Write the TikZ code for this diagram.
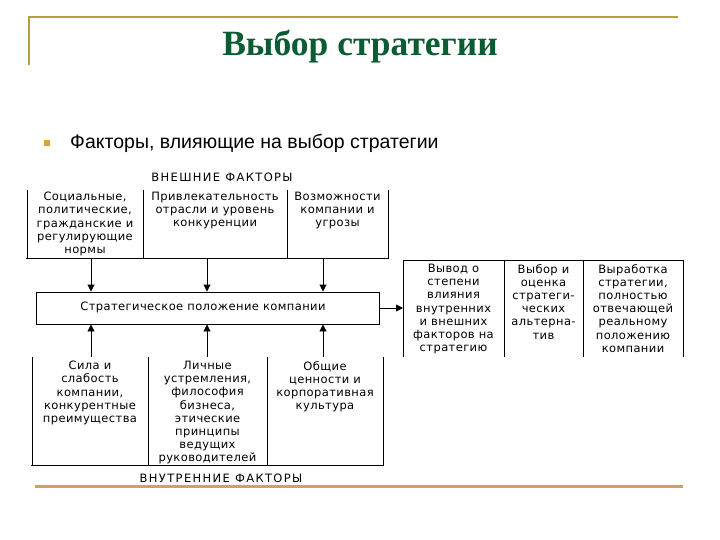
\documentclass[tikz,border=0pt]{standalone}
\usepackage{fontspec}
\setmainfont{Liberation Serif}
\newfontfamily\subfont{Liberation Sans}
\newfontfamily\tabfont[LetterSpace=3.5]{DejaVu Sans}
\newfontfamily\hdrfont[LetterSpace=12]{DejaVu Sans}
\usetikzlibrary{arrows.meta}
\definecolor{decoolive}{HTML}{B5A03A}
\definecolor{decotan}{HTML}{C8A65E}
\definecolor{titlegreen}{HTML}{0A5C32}
\definecolor{bulletc}{HTML}{D9A530}
\begin{document}
\begin{tikzpicture}[x=1pt,y=-1pt,
  cell/.style={font=\tabfont\fontsize{11.5}{13.2}\selectfont, align=center, anchor=north, inner sep=0pt},
  hdr/.style={font=\hdrfont\fontsize{11.5}{13.2}\selectfont, inner sep=0pt},
  tline/.style={line width=0.9pt},
  arr/.style={line width=0.9pt,-{Triangle[width=7pt,length=7pt]}}]
\useasboundingbox[fill=white] (0,0) rectangle (720,540);
% slide decoration
\draw[decoolive,line width=2pt] (29,65) -- (29,17) -- (678,17);
\draw[decotan,line width=3pt] (35,486) -- (683,486);
\node[text=titlegreen,font=\fontsize{35.5}{40}\selectfont\bfseries] (title) at (360,47) {Выбор стратегии};
\node[fill=bulletc,minimum size=6.5pt,inner sep=0pt] (bul) at (47,143) {};
\node[anchor=west,font=\subfont\fontsize{19.5}{22}\selectfont,inner sep=0pt] (sub) at (70,143) {Факторы, влияющие на выбор стратегии};
% external factors
\node[hdr] (ext) at (222,177) {ВНЕШНИЕ ФАКТОРЫ};
\draw[tline] (27,190) -- (27,258) (143,190) -- (143,258) (287,190) -- (287,258) (388,190) -- (388,258) (26,258) -- (389,258);
\node[cell] (e1) at (85,192) {Социальные,\\политические,\\гражданские и\\регулирующие\\нормы};
\node[cell] (e2) at (215,192) {Привлекательность\\отрасли и уровень\\конкуренции};
\node[cell] (e3) at (337.5,192) {Возможности\\компании и\\угрозы};
% strategic position
\node[draw,line width=0.9pt,minimum width=343pt,minimum height=32pt,inner sep=0pt] (strat) at (207.5,308) {};
\node[font=\tabfont\fontsize{11.5}{13.2}\selectfont,inner sep=0pt] (stext) at (203,307) {Стратегическое положение компании};
\coordinate (a1) at (91,258);
\coordinate (a2) at (207,258);
\coordinate (a3) at (323,258);
\draw[arr] (a1) -- (a1 |- strat.north);
\draw[arr] (a2) -- (a2 |- strat.north);
\draw[arr] (a3) -- (a3 |- strat.north);
% internal factors
\draw[tline] (32,357) -- (32,465) (148,357) -- (148,465) (267,357) -- (267,465) (383,357) -- (383,465) (31,465) -- (384,465);
\coordinate (b1) at (91,357);
\coordinate (b2) at (207,357);
\coordinate (b3) at (323,357);
\draw[arr] (b1) -- (b1 |- strat.south);
\draw[arr] (b2) -- (b2 |- strat.south);
\draw[arr] (b3) -- (b3 |- strat.south);
\node[cell] (i1) at (90,361) {Сила и\\слабость\\компании,\\конкурентные\\преимущества};
\node[cell] (i2) at (207.5,361) {Личные\\устремления,\\философия\\бизнеса,\\этические\\принципы\\ведущих\\руководителей};
\node[cell] (i3) at (325,361) {Общие\\ценности и\\корпоративная\\культура};
\node[hdr] (int) at (221,478) {ВНУТРЕННИЕ ФАКТОРЫ};
% right table
\draw[tline] (403,260) -- (683,260) (403,260) -- (403,357) (504,260) -- (504,357) (583,260) -- (583,357) (683,260) -- (683,357);
\coordinate (rt) at (403,308);
\draw[arr] (strat.east) -- (rt);
\node[cell] (r1) at (453.5,264) {Вывод о\\степени\\влияния\\внутренних\\и внешних\\факторов на\\стратегию};
\node[cell] (r2) at (543.5,264) {Выбор и\\оценка\\стратеги-\\ческих\\альтерна-\\тив};
\node[cell] (r3) at (633,264) {Выработка\\стратегии,\\полностью\\отвечающей\\реальному\\положению\\компании};
\end{tikzpicture}
\end{document}
